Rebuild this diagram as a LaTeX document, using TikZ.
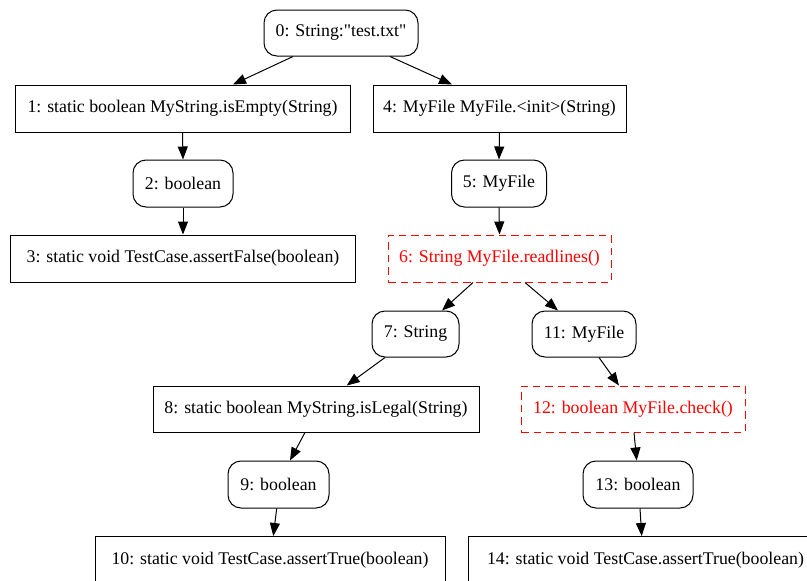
\documentclass[tikz,border=0pt]{standalone}
\usepackage{fontspec}
\setmainfont{Liberation Serif}[Ligatures=TeXOff]
\usetikzlibrary{arrows.meta,calc}
\definecolor{hotred}{RGB}{255,0,0}
\tikzset{
  base/.style={draw=black, line width=1pt, font=\fontsize{17.8}{20}\selectfont, inner sep=0pt, anchor=center},
  methodbox/.style={base, rectangle},
  valbox/.style={base, rectangle, rounded corners=13pt},
  hotbox/.style={base, rectangle, draw=hotred, text=hotred, dash pattern=on 7.5pt off 5pt},
  edge/.style={line width=1pt, -{Triangle[length=13pt,width=10pt]}}
}
\begin{document}
\begin{tikzpicture}[x=1pt,y=-1pt]
\useasboundingbox (0,0) rectangle (807,581);
\clip (0,0) rectangle (807,581);
\fill[white] (0,0) rectangle (807,581);
\node[valbox, minimum width=154pt, minimum height=46pt] (n0) at (341,33) {0: String:"test.txt"};
\node[methodbox, minimum width=335pt, minimum height=47pt] (n1) at (182.5,108.5) {1: static boolean MyString.isEmpty(String)};
\node[methodbox, minimum width=253pt, minimum height=47pt] (n4) at (499.5,108.5) {4: MyFile MyFile.<init>(String)};
\node[valbox, minimum width=100pt, minimum height=47pt] (n2) at (183,183.5) {2: boolean};
\node[valbox, minimum width=95pt, minimum height=47pt] (n5) at (499,183.5) {5: MyFile};
\node[methodbox, minimum width=345pt, minimum height=47pt] (n3) at (183,258.5) {3: static void TestCase.assertFalse(boolean)};
\node[hotbox, minimum width=223pt, minimum height=47pt] (n6) at (499.5,258.5) {6: String MyFile.readlines()};
\node[valbox, minimum width=87pt, minimum height=46pt] (n7) at (415.5,334) {7: String};
\node[valbox, minimum width=104pt, minimum height=46pt] (n11) at (584,334) {11: MyFile};
\node[methodbox, minimum width=326pt, minimum height=46pt] (n8) at (316,409) {8: static boolean MyString.isLegal(String)};
\node[hotbox, minimum width=224pt, minimum height=46pt] (n12) at (633,409) {12: boolean MyFile.check()};
\node[valbox, minimum width=101pt, minimum height=47pt] (n9) at (278.5,484.5) {9: boolean};
\node[valbox, minimum width=110pt, minimum height=47pt] (n13) at (638,484.5) {13: boolean};
\node[methodbox, minimum width=350pt, minimum height=47pt] (n10) at (270,560) {10: static void TestCase.assertTrue(boolean)};
\node[methodbox, minimum width=355pt, minimum height=47pt] (n14) at (645.5,560) {14: static void TestCase.assertTrue(boolean)};

\draw[edge] ($(n0.south)+(-48,0)$) -- ($(n1.north)+(50.5,0)$);
\draw[edge] ($(n0.south)+(49,0)$) -- ($(n4.north)+(-47.5,0)$);
\draw[edge] (n1.south) -- (n2.north);
\draw[edge] (n4.south) -- (n5.north);
\draw[edge] (n2.south) -- (n3.north);
\draw[edge] (n5.south) -- (n6.north);
\draw[edge] ($(n6.south)+(-26.5,0)$) -- ($(n7.north)+(26.5,0)$);
\draw[edge] ($(n6.south)+(25.5,0)$) -- ($(n11.north)+(-26,0)$);
\draw[edge] ($(n7.south)+(-30.5,0)$) -- ($(n8.north)+(30.7,0)$);
\draw[edge] ($(n11.south)+(15,0)$) -- ($(n12.north)+(-14,0)$);
\draw[edge] ($(n8.south)+(-11,0)$) -- ($(n9.north)+(11.5,0)$);
\draw[edge] ($(n12.south)+(1,0)$) -- ($(n13.north)+(-1.3,0)$);
\draw[edge] ($(n9.south)+(-1.8,0)$) -- ($(n10.north)+(3.3,0)$);
\draw[edge] ($(n13.south)+(2,0)$) -- ($(n14.north)+(-3.8,0)$);
\end{tikzpicture}
\end{document}
